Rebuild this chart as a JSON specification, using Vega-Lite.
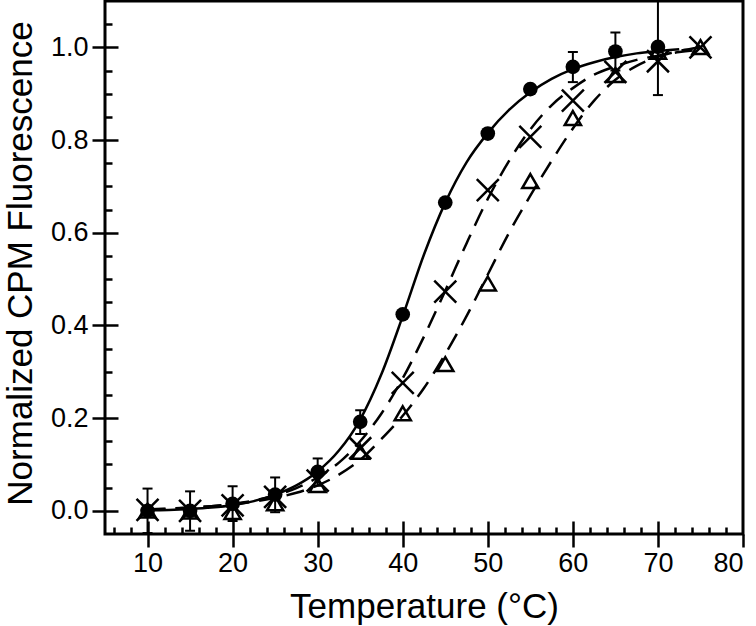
{
  "$schema": "https://vega.github.io/schema/vega-lite/v6.json",
  "width": 638,
  "height": 533,
  "autosize": {"type": "none"},
  "padding": {"left": 105, "top": 1, "right": 13, "bottom": 92},
  "background": "white",
  "config": {
    "view": {"stroke": "black", "strokeWidth": 3},
    "axis": {
      "domain": false,
      "grid": false,
      "tickColor": "black",
      "tickWidth": 2.5,
      "labelColor": "black",
      "titleColor": "black",
      "labelFont": "Liberation Sans",
      "titleFont": "Liberation Sans",
      "labelFontSize": 27,
      "titleFontSize": 35,
      "labelFontWeight": "normal",
      "titleFontWeight": "normal"
    }
  },
  "datasets": {
    "curves": [
      {"T": 10, "v": 0.001, "c": "solid"}, {"T": 12.5, "v": 0.002, "c": "solid"}, {"T": 15, "v": 0.004, "c": "solid"},
      {"T": 17.5, "v": 0.007, "c": "solid"}, {"T": 20, "v": 0.012, "c": "solid"}, {"T": 22.5, "v": 0.021, "c": "solid"},
      {"T": 25, "v": 0.035, "c": "solid"}, {"T": 27.5, "v": 0.055, "c": "solid"}, {"T": 30, "v": 0.085, "c": "solid"},
      {"T": 32.5, "v": 0.13, "c": "solid"}, {"T": 35, "v": 0.197, "c": "solid"}, {"T": 37.5, "v": 0.295, "c": "solid"},
      {"T": 40, "v": 0.42, "c": "solid"}, {"T": 42.5, "v": 0.553, "c": "solid"}, {"T": 45, "v": 0.665, "c": "solid"},
      {"T": 47.5, "v": 0.752, "c": "solid"}, {"T": 50, "v": 0.815, "c": "solid"}, {"T": 52.5, "v": 0.865, "c": "solid"},
      {"T": 55, "v": 0.903, "c": "solid"}, {"T": 57.5, "v": 0.932, "c": "solid"}, {"T": 60, "v": 0.953, "c": "solid"},
      {"T": 62.5, "v": 0.968, "c": "solid"}, {"T": 65, "v": 0.979, "c": "solid"}, {"T": 67.5, "v": 0.987, "c": "solid"},
      {"T": 70, "v": 0.992, "c": "solid"}, {"T": 72.5, "v": 0.996, "c": "solid"},

      {"T": 10, "v": 0.003, "c": "x"}, {"T": 12.5, "v": 0.004, "c": "x"}, {"T": 15, "v": 0.007, "c": "x"},
      {"T": 17.5, "v": 0.01, "c": "x"}, {"T": 20, "v": 0.015, "c": "x"}, {"T": 22.5, "v": 0.022, "c": "x"},
      {"T": 25, "v": 0.033, "c": "x"}, {"T": 27.5, "v": 0.049, "c": "x"}, {"T": 30, "v": 0.072, "c": "x"},
      {"T": 32.5, "v": 0.104, "c": "x"}, {"T": 35, "v": 0.15, "c": "x"}, {"T": 37.5, "v": 0.21, "c": "x"},
      {"T": 40, "v": 0.286, "c": "x"}, {"T": 42.5, "v": 0.376, "c": "x"}, {"T": 45, "v": 0.475, "c": "x"},
      {"T": 47.5, "v": 0.577, "c": "x"}, {"T": 50, "v": 0.673, "c": "x"}, {"T": 52.5, "v": 0.755, "c": "x"},
      {"T": 55, "v": 0.823, "c": "x"}, {"T": 57.5, "v": 0.875, "c": "x"}, {"T": 60, "v": 0.912, "c": "x"},
      {"T": 62.5, "v": 0.941, "c": "x"}, {"T": 65, "v": 0.959, "c": "x"}, {"T": 67.5, "v": 0.973, "c": "x"},
      {"T": 70, "v": 0.982, "c": "x"}, {"T": 72.5, "v": 0.99, "c": "x"}, {"T": 75, "v": 0.995, "c": "x"},

      {"T": 10, "v": 0.003, "c": "tri"}, {"T": 12.5, "v": 0.005, "c": "tri"}, {"T": 15, "v": 0.007, "c": "tri"},
      {"T": 17.5, "v": 0.01, "c": "tri"}, {"T": 20, "v": 0.014, "c": "tri"}, {"T": 22.5, "v": 0.02, "c": "tri"},
      {"T": 25, "v": 0.028, "c": "tri"}, {"T": 27.5, "v": 0.039, "c": "tri"}, {"T": 30, "v": 0.055, "c": "tri"},
      {"T": 32.5, "v": 0.078, "c": "tri"}, {"T": 35, "v": 0.11, "c": "tri"}, {"T": 37.5, "v": 0.155, "c": "tri"},
      {"T": 40, "v": 0.205, "c": "tri"}, {"T": 42.5, "v": 0.265, "c": "tri"}, {"T": 45, "v": 0.338, "c": "tri"},
      {"T": 47.5, "v": 0.42, "c": "tri"}, {"T": 50, "v": 0.51, "c": "tri"}, {"T": 52.5, "v": 0.6, "c": "tri"},
      {"T": 55, "v": 0.68, "c": "tri"}, {"T": 57.5, "v": 0.755, "c": "tri"}, {"T": 60, "v": 0.825, "c": "tri"},
      {"T": 62.5, "v": 0.885, "c": "tri"}, {"T": 65, "v": 0.93, "c": "tri"}, {"T": 67.5, "v": 0.96, "c": "tri"},
      {"T": 70, "v": 0.98, "c": "tri"}, {"T": 72.5, "v": 0.992, "c": "tri"}, {"T": 75, "v": 1.0, "c": "tri"}
    ],
    "pts": [
      {"T": 10, "v": 0.0, "s": "circle", "lo": -0.048, "hi": 0.048},
      {"T": 15, "v": 0.0, "s": "circle", "lo": -0.043, "hi": 0.042},
      {"T": 20, "v": 0.015, "s": "circle", "lo": -0.022, "hi": 0.053},
      {"T": 25, "v": 0.035, "s": "circle", "lo": -0.003, "hi": 0.072},
      {"T": 30, "v": 0.084, "s": "circle", "lo": 0.054, "hi": 0.113},
      {"T": 35, "v": 0.192, "s": "circle", "lo": 0.166, "hi": 0.217},
      {"T": 40, "v": 0.424, "s": "circle"},
      {"T": 45, "v": 0.665, "s": "circle"},
      {"T": 50, "v": 0.814, "s": "circle"},
      {"T": 55, "v": 0.91, "s": "circle"},
      {"T": 60, "v": 0.958, "s": "circle", "lo": 0.925, "hi": 0.99},
      {"T": 65, "v": 0.991, "s": "circle", "lo": 0.95, "hi": 1.032},
      {"T": 70, "v": 1.001, "s": "circle", "lo": 0.897, "hi": 1.105},

      {"T": 10, "v": 0.002, "s": "x"}, {"T": 15, "v": 0.0, "s": "x"}, {"T": 20, "v": 0.012, "s": "x"},
      {"T": 25, "v": 0.03, "s": "x"}, {"T": 30, "v": 0.065, "s": "x"}, {"T": 35, "v": 0.135, "s": "x"},
      {"T": 40, "v": 0.276, "s": "x"}, {"T": 45, "v": 0.473, "s": "x"}, {"T": 50, "v": 0.692, "s": "x"},
      {"T": 55, "v": 0.807, "s": "x"}, {"T": 60, "v": 0.885, "s": "x"}, {"T": 65, "v": 0.947, "s": "x"},
      {"T": 70, "v": 0.97, "s": "x"}, {"T": 75, "v": 1.0, "s": "x"},

      {"T": 10, "v": 0.0, "s": "tri"}, {"T": 15, "v": -0.002, "s": "tri"}, {"T": 20, "v": -0.003, "s": "tri"},
      {"T": 25, "v": 0.016, "s": "tri"}, {"T": 30, "v": 0.055, "s": "tri"}, {"T": 35, "v": 0.127, "s": "tri"},
      {"T": 40, "v": 0.21, "s": "tri"}, {"T": 45, "v": 0.316, "s": "tri"}, {"T": 50, "v": 0.49, "s": "tri"},
      {"T": 55, "v": 0.711, "s": "tri"}, {"T": 60, "v": 0.847, "s": "tri"}, {"T": 65, "v": 0.94, "s": "tri"},
      {"T": 70, "v": 0.99, "s": "tri"}, {"T": 75, "v": 1.0, "s": "tri"}
    ]
  },
  "resolve": {"axis": {"x": "independent", "y": "independent"}},
  "layer": [
    {
      "data": {"name": "curves"},
      "transform": [{"filter": "datum.c === 'solid'"}],
      "mark": {"type": "line", "color": "black", "strokeWidth": 2.5, "interpolate": "monotone", "clip": true},
      "encoding": {
        "x": {"field": "T", "type": "quantitative", "scale": {"domain": [5, 80], "nice": false, "zero": false},
          "axis": {"orient": "bottom", "values": [10, 20, 30, 40, 50, 60, 70, 80], "tickSize": 13, "labelPadding": 3,
            "title": "Temperature (°C)", "titleX": 319, "titleY": 83, "titleBaseline": "alphabetic", "titleAlign": "center", "titleAnchor": null}},
        "y": {"field": "v", "type": "quantitative", "scale": {"domain": [-0.05, 1.1], "nice": false, "zero": false},
          "axis": {"orient": "left", "values": [0, 0.2, 0.4, 0.6, 0.8, 1.0], "format": ".1f", "tickSize": 13, "labelPadding": 4,
            "title": "Normalized CPM Fluorescence", "titleX": -74, "titleY": 262, "titleAngle": -90, "titleBaseline": "alphabetic", "titleAlign": "center", "titleAnchor": null}}
      }
    },
    {
      "data": {"name": "curves"},
      "transform": [{"filter": "datum.c !== 'solid'"}],
      "mark": {"type": "line", "color": "black", "strokeWidth": 2.5, "interpolate": "monotone", "strokeDash": [18, 10], "clip": true},
      "encoding": {
        "detail": {"field": "c", "type": "nominal"},
        "x": {"field": "T", "type": "quantitative", "scale": {"domain": [5, 80], "nice": false, "zero": false},
          "axis": {"orient": "bottom", "values": [6, 8, 10, 12, 14, 16, 18, 20, 22, 24, 26, 28, 30, 32, 34, 36, 38, 40, 42, 44, 46, 48, 50, 52, 54, 56, 58, 60, 62, 64, 66, 68, 70, 72, 74, 76, 78],
            "labels": false, "title": null,
            "tickSize": {"condition": {"test": "datum.value % 10 === 0", "value": -13}, "value": -7}}},
        "y": {"field": "v", "type": "quantitative", "scale": {"domain": [-0.05, 1.1], "nice": false, "zero": false},
          "axis": {"orient": "left", "values": [0, 0.05, 0.1, 0.15, 0.2, 0.25, 0.3, 0.35, 0.4, 0.45, 0.5, 0.55, 0.6, 0.65, 0.7, 0.75, 0.8, 0.85, 0.9, 0.95, 1.0, 1.05],
            "labels": false, "title": null,
            "tickSize": {"condition": {"test": "abs(datum.value * 5 - round(datum.value * 5)) < 0.001", "value": -13}, "value": -7}}}
      }
    },
    {
      "data": {"name": "pts"},
      "transform": [{"filter": "isValid(datum.lo)"}],
      "mark": {"type": "rule", "color": "black", "strokeWidth": 2, "clip": true},
      "encoding": {
        "x": {"field": "T", "type": "quantitative", "axis": null},
        "y": {"field": "lo", "type": "quantitative", "axis": null},
        "y2": {"field": "hi"}
      }
    },
    {
      "data": {"name": "pts"},
      "transform": [{"filter": "isValid(datum.lo)"}],
      "mark": {"type": "tick", "orient": "horizontal", "color": "black", "size": 10, "thickness": 2, "opacity": 1, "clip": true},
      "encoding": {
        "x": {"field": "T", "type": "quantitative", "axis": null},
        "y": {"field": "hi", "type": "quantitative", "axis": null}
      }
    },
    {
      "data": {"name": "pts"},
      "transform": [{"filter": "isValid(datum.lo)"}],
      "mark": {"type": "tick", "orient": "horizontal", "color": "black", "size": 10, "thickness": 2, "opacity": 1, "clip": true},
      "encoding": {
        "x": {"field": "T", "type": "quantitative", "axis": null},
        "y": {"field": "lo", "type": "quantitative", "axis": null}
      }
    },
    {
      "data": {"name": "pts"},
      "transform": [{"filter": "datum.s === 'tri'"}],
      "mark": {"type": "point", "shape": "M0,-0.8L0.9,0.75L-0.9,0.75Z", "size": 324, "filled": false, "stroke": "black", "strokeWidth": 2.5, "opacity": 1},
      "encoding": {
        "x": {"field": "T", "type": "quantitative", "axis": null},
        "y": {"field": "v", "type": "quantitative", "axis": null}
      }
    },
    {
      "data": {"name": "pts"},
      "transform": [{"filter": "datum.s === 'x'"}],
      "mark": {"type": "point", "shape": "M-1,-1L1,1M1,-1L-1,1", "size": 484, "filled": false, "stroke": "black", "strokeWidth": 2.5, "opacity": 1},
      "encoding": {
        "x": {"field": "T", "type": "quantitative", "axis": null},
        "y": {"field": "v", "type": "quantitative", "axis": null}
      }
    },
    {
      "data": {"name": "pts"},
      "transform": [{"filter": "datum.s === 'circle'"}],
      "mark": {"type": "point", "shape": "circle", "size": 215, "filled": true, "color": "black", "opacity": 1},
      "encoding": {
        "x": {"field": "T", "type": "quantitative", "axis": null},
        "y": {"field": "v", "type": "quantitative", "axis": null}
      }
    }
  ]
}
